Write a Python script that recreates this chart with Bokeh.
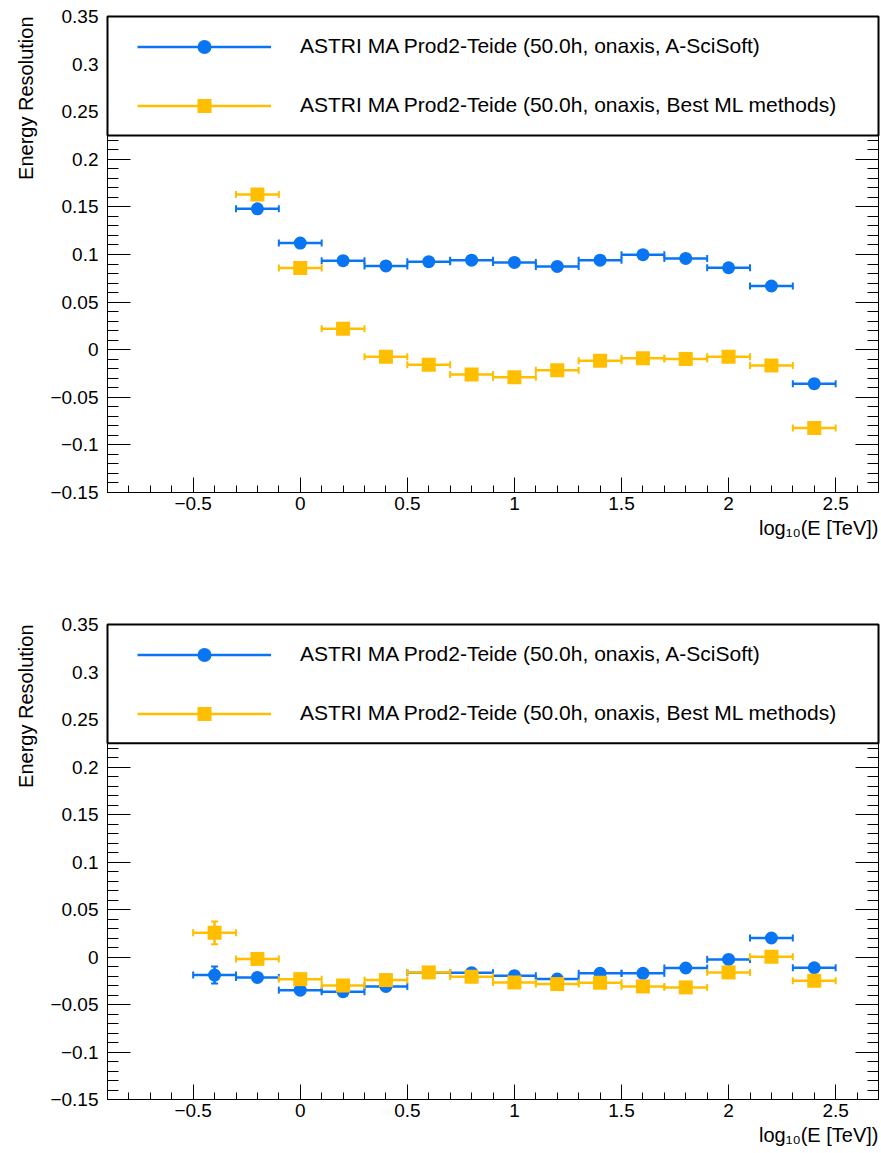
import math

from bokeh.core.properties import value
from bokeh.embed import file_html
from bokeh.layouts import column
from bokeh.models import (CustomJSTickFormatter, FixedTicker, Legend, LegendItem,
                          LinearAxis, Range1d, Title)
from bokeh.plotting import figure
from bokeh.resources import INLINE

# ---------------------------------------------------------------- data
# bin centres in log10(E / TeV); every bin is 0.2 wide
bin_halfwidth = 0.1

top_x = [-0.2, 0.0, 0.2, 0.4, 0.6, 0.8, 1.0, 1.2, 1.4, 1.6, 1.8, 2.0, 2.2, 2.4]
top_scisoft = [0.148, 0.112, 0.0935, 0.088, 0.0925, 0.094, 0.0917, 0.0875,
               0.094, 0.0998, 0.0959, 0.0861, 0.0669, -0.0357]
top_ml = [0.163, 0.0858, 0.022, -0.0074, -0.0158, -0.026, -0.029, -0.0217,
          -0.0116, -0.0091, -0.0098, -0.0074, -0.0165, -0.0823]

bot_x = [-0.4, -0.2, 0.0, 0.2, 0.4, 0.6, 0.8, 1.0, 1.2, 1.4, 1.6, 1.8, 2.0, 2.2, 2.4]
bot_scisoft = [-0.019, -0.0215, -0.0349, -0.0366, -0.031, -0.0165, -0.0165, -0.0197,
               -0.0232, -0.0172, -0.0172, -0.0116, -0.0025, 0.020, -0.0113]
bot_scisoft_err = [0.009, 0, 0, 0, 0, 0, 0, 0, 0, 0, 0, 0, 0, 0, 0]
bot_ml = [0.0255, -0.002, -0.0233, -0.030, -0.0243, -0.0162, -0.0208, -0.0268,
          -0.0285, -0.0271, -0.031, -0.032, -0.0162, 0.0003, -0.025]
bot_ml_err = [0.012, 0, 0, 0, 0, 0, 0, 0, 0, 0, 0, 0, 0, 0, 0]

label_scisoft = "ASTRI MA Prod2-Teide (50.0h, onaxis, A-SciSoft)"
label_ml = "ASTRI MA Prod2-Teide (50.0h, onaxis, Best ML methods)"
x_title = "log\u2081\u2080(E [TeV])"
y_title = "Energy Resolution"

x_major = [-0.5, 0.0, 0.5, 1.0, 1.5, 2.0, 2.5]
y_major = [-0.15, -0.1, -0.05, 0.0, 0.05, 0.1, 0.15, 0.2, 0.25, 0.3, 0.35]

# ---------------------------------------------------------------- style
X_RANGE = (-0.9, 2.7)
Y_RANGE = (-0.15, 0.35)
LEGEND_BOTTOM = 0.225
BLUE = "#0a75f2"
GOLD = "#ffbf00"
FONT = "Liberation Sans"
W = 881
FRAME_LEFT, FRAME_RIGHT = 107, 3

x_minor = [round(-0.9 + 0.1 * i, 2) for i in range(37)]
y_minor = [round(-0.15 + 0.01 * i, 2) for i in range(51)]

fmt = CustomJSTickFormatter(code="""
const v = Math.round(tick * 100) / 100;
if (v === 0) return "0";
return v < 0 ? "\u2212" + String(-v) : String(v);
""")
blank = CustomJSTickFormatter(code="return '';")


def style_axis(ax, major_in, minor_in, labels=True):
    ax.axis_line_color = "black"
    ax.axis_line_width = 1
    ax.major_tick_line_color = "black"
    ax.minor_tick_line_color = "black"
    ax.major_tick_in = major_in
    ax.major_tick_out = 0
    ax.minor_tick_in = minor_in
    ax.minor_tick_out = 0
    ax.major_label_text_font = FONT
    ax.major_label_text_font_size = "19px"
    ax.major_label_text_color = "black"
    if not labels:
        ax.formatter = blank
        ax.major_label_standoff = 0


def errorbars(p, x, y, yerr, color, marker, size):
    xl = [v - bin_halfwidth for v in x]
    xr = [v + bin_halfwidth for v in x]
    seg = p.segment(x0=xl, y0=y, x1=xr, y1=y, line_color=color, line_width=2.5)
    # end caps of the horizontal bars
    p.scatter(x=xl + xr, y=y + y, marker="dash", angle=math.pi / 2, size=7,
              line_color=color, line_width=2)
    # vertical errors where they exceed the marker
    vx = [a for a, e in zip(x, yerr) if e > 0]
    vlo = [b - e for b, e in zip(y, yerr) if e > 0]
    vhi = [b + e for b, e in zip(y, yerr) if e > 0]
    if vx:
        p.segment(x0=vx, y0=vlo, x1=vx, y1=vhi, line_color=color, line_width=2.5)
        p.scatter(x=vx + vx, y=vlo + vhi, marker="dash", size=7,
                  line_color=color, line_width=2)
    mk = p.scatter(x=x, y=y, marker=marker, size=size, fill_color=color,
                   line_color=color, line_width=0)
    return seg, mk


def title(text, standoff):
    return Title(text=text, align="right", standoff=standoff, text_font=FONT,
                 text_font_size="20px", text_font_style="normal", text_color="black")


def panel(x, s1, e1, s2, e2, height, border_top, border_bottom):
    p = figure(width=W, height=height, output_backend="svg", toolbar_location=None,
               x_range=Range1d(*X_RANGE), y_range=Range1d(*Y_RANGE),
               x_axis_type=None, y_axis_type=None,
               min_border_left=FRAME_LEFT, min_border_right=FRAME_RIGHT,
               min_border_top=border_top, min_border_bottom=border_bottom,
               background_fill_color="white", border_fill_color="white",
               outline_line_color="black", outline_line_width=1)
    p.xgrid.visible = False
    p.ygrid.visible = False

    xt = FixedTicker(ticks=x_major, minor_ticks=x_minor)
    yt = FixedTicker(ticks=y_major, minor_ticks=y_minor)

    xb = LinearAxis(ticker=xt, formatter=fmt)
    style_axis(xb, 15, 7)
    xb.major_label_standoff = 4
    p.add_layout(xb, "below")
    p.add_layout(title(x_title, 5), "below")

    yl = LinearAxis(ticker=yt, formatter=fmt)
    style_axis(yl, 23, 11)
    yl.major_label_standoff = 9
    p.add_layout(yl, "left")
    p.add_layout(title(y_title, 21), "left")

    yr = LinearAxis(ticker=yt)
    style_axis(yr, 23, 11, labels=False)
    p.add_layout(yr, "right")

    seg1, mk1 = errorbars(p, x, s1, e1, BLUE, "circle", 13)
    seg2, mk2 = errorbars(p, x, s2, e2, GOLD, "square", 14)

    # legend panel spanning the top of the frame
    p.quad(left=[X_RANGE[0]], right=[X_RANGE[1]], bottom=[LEGEND_BOTTOM], top=[Y_RANGE[1]],
           fill_color="white", line_color="black", line_width=2, level="overlay")
    frame_h = height - border_top - border_bottom
    legend = Legend(items=[LegendItem(label=value(label_scisoft), renderers=[seg1, mk1]),
                           LegendItem(label=value(label_ml), renderers=[seg2, mk2])],
                    location=(30, frame_h - 12.5 - 94), padding=0, margin=0,
                    spacing=24, glyph_width=134, glyph_height=35, label_standoff=29,
                    label_text_font=FONT, label_text_font_size="21px",
                    label_text_color="black", label_text_baseline="middle",
                    border_line_alpha=0, background_fill_alpha=0, level="overlay")
    p.add_layout(legend)
    return p


p_top = panel(top_x, top_scisoft, [0] * len(top_x), top_ml, [0] * len(top_x), 576, 16, 84)
p_bot = panel(bot_x, bot_scisoft, bot_scisoft_err, bot_ml, bot_ml_err, 577, 48, 54)

layout = column(p_top, p_bot, spacing=0)
open("out.html", "w").write(file_html(layout, INLINE))
